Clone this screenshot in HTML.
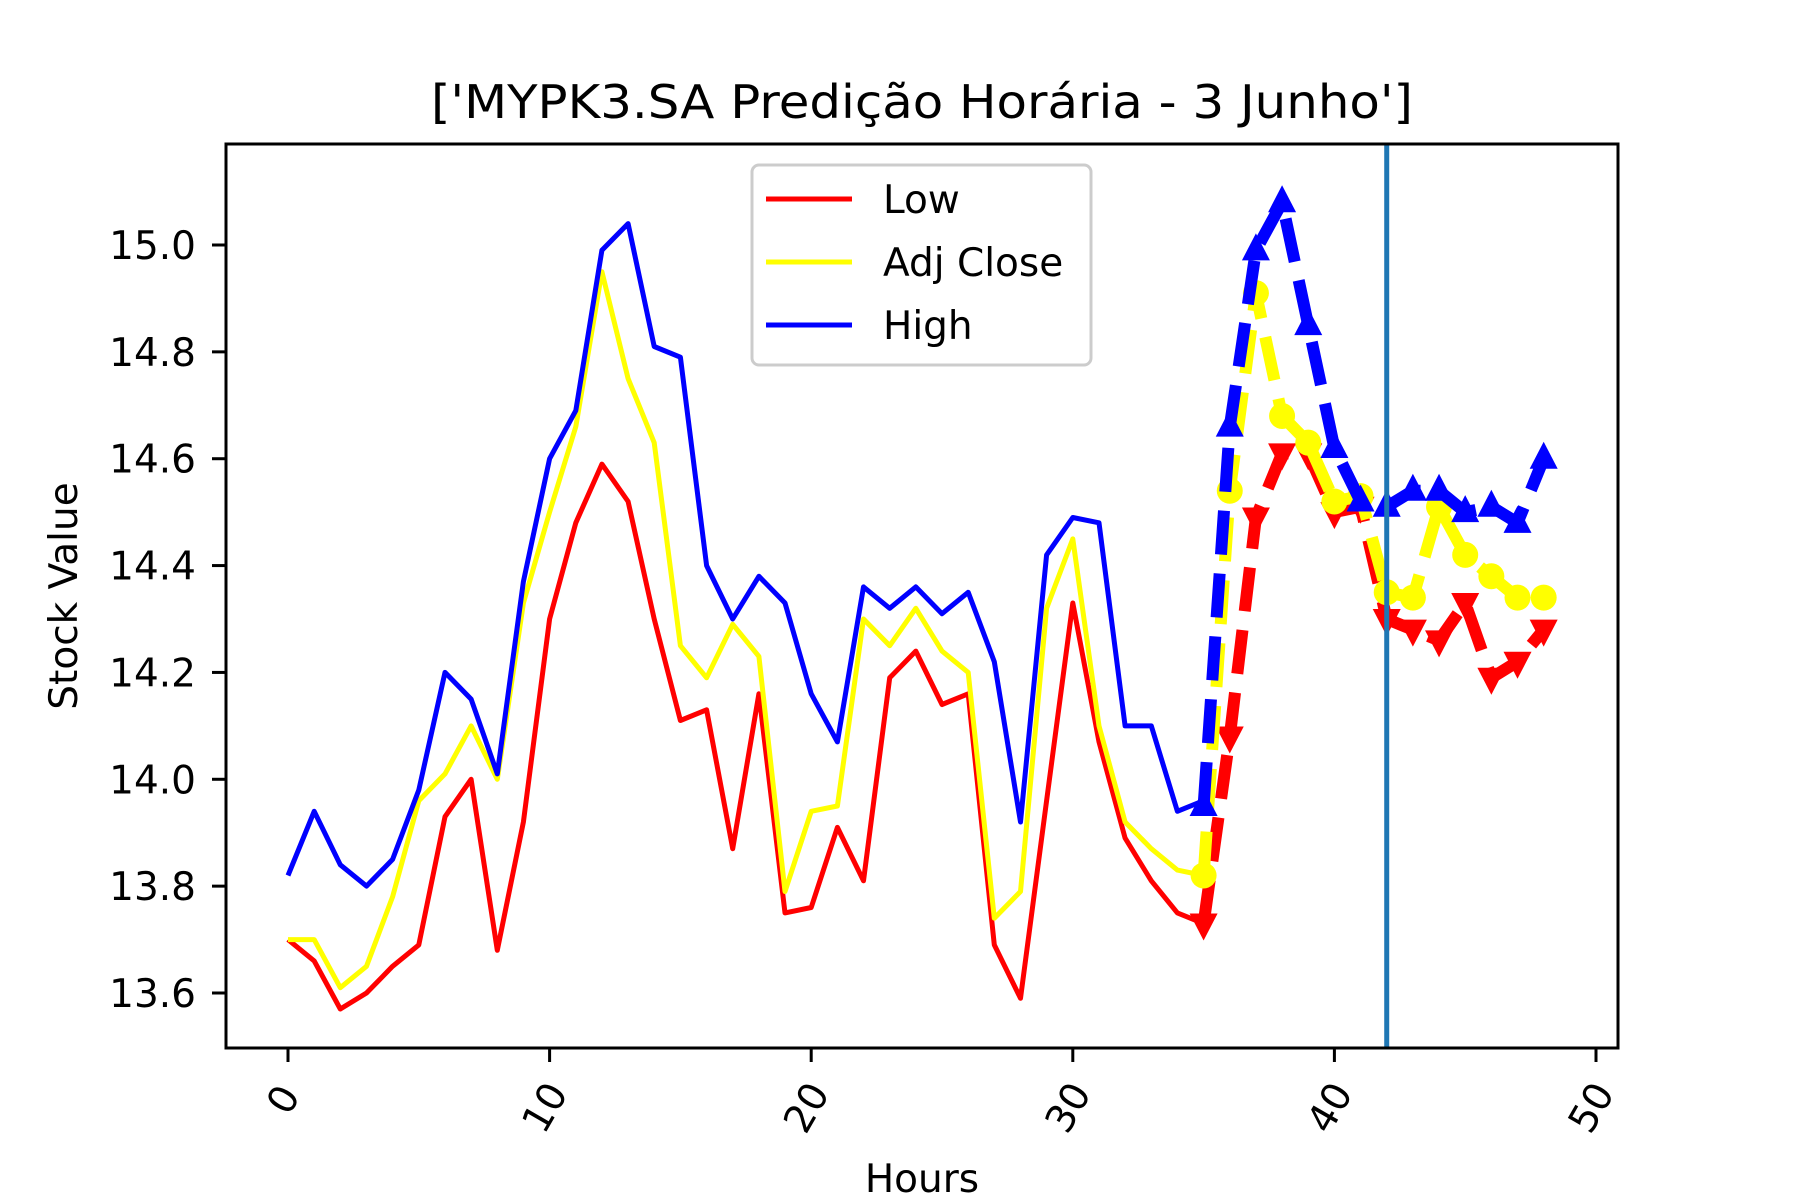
<!DOCTYPE html>
<html><head><meta charset="utf-8"><style>
html,body{margin:0;padding:0;background:#fff;}
svg{display:block;font-family:"DejaVu Sans","Liberation Sans",sans-serif;}
</style></head><body>
<svg id="chart" width="1800" height="1200" viewBox="0 0 1800 1200">
<rect x="0" y="0" width="1800" height="1200" fill="#fff"/>
<g id="plot"></g>
</svg>
<script>
const hours = [0,1,2,3,4,5,6,7,8,9,10,11,12,13,14,15,16,17,18,19,20,21,22,23,24,25,26,27,28,29,30,31,32,33,34,35];
const lowVals = [13.70,13.66,13.57,13.60,13.65,13.69,13.93,14.00,13.68,13.92,14.30,14.48,14.59,14.52,14.30,14.11,14.13,13.87,14.16,13.75,13.76,13.91,13.81,14.19,14.24,14.14,14.16,13.69,13.59,13.96,14.33,14.07,13.89,13.81,13.75,13.73];
const adjVals = [13.70,13.70,13.61,13.65,13.78,13.96,14.01,14.10,14.00,14.33,14.50,14.66,14.95,14.75,14.63,14.25,14.19,14.29,14.23,13.79,13.94,13.95,14.30,14.25,14.32,14.24,14.20,13.74,13.79,14.32,14.45,14.10,13.92,13.87,13.83,13.82];
const highVals = [13.82,13.94,13.84,13.80,13.85,13.98,14.20,14.15,14.01,14.37,14.60,14.69,14.99,15.04,14.81,14.79,14.40,14.30,14.38,14.33,14.16,14.07,14.36,14.32,14.36,14.31,14.35,14.22,13.92,14.42,14.49,14.48,14.10,14.10,13.94,13.96];
const predHours = [35,36,37,38,39,40,41,42,43,44,45,46,47,48];
const predLow = [13.73,14.08,14.49,14.61,14.61,14.50,14.51,14.30,14.28,14.26,14.33,14.19,14.22,14.28];
const predAdj = [13.82,14.54,14.91,14.68,14.63,14.52,14.53,14.35,14.34,14.51,14.42,14.38,14.34,14.34];
const predHigh = [13.95,14.66,14.99,15.08,14.85,14.62,14.52,14.51,14.54,14.54,14.50,14.51,14.48,14.60];
const xTicks = [0,10,20,30,40,50];
const yTicks = [13.6,13.8,14.0,14.2,14.4,14.6,14.8,15.0];
const splitHour = 42;

const AX = {l:226, r:1618, t:144, b:1048};
function xs(h){ return 288 + (h-0)*(1596-288)/50; }
function ys(v){ return 245 + (15.0-v)*(993-245)/1.4; }
const NS='http://www.w3.org/2000/svg';
const plot=document.getElementById('plot');
function mk(tag, attrs, parent){ const e=document.createElementNS(NS,tag); for(const k in attrs) e.setAttribute(k,attrs[k]); (parent||plot).appendChild(e); return e; }

const defs=mk('defs',{});
const cp=mk('clipPath',{id:'clip'},defs);
mk('rect',{x:AX.l,y:AX.t,width:AX.r-AX.l,height:AX.b-AX.t},cp);
const g=mk('g',{'clip-path':'url(#clip)'});



function pts(xarr, varr){ return xarr.map((h,i)=>xs(h).toFixed(1)+','+ys(varr[i]).toFixed(1)).join(' '); }

function line(xarr,varr,color){
  return mk('polyline',{points:pts(xarr,varr),fill:'none',stroke:color,'stroke-width':5,'stroke-linejoin':'round'},g);
}
const l1=line(hours,lowVals,'#ff0000');


const l2=line(hours,adjVals,'#ffff00');


const l3=line(hours,highVals,'#0000ff');



function predLine(varr,color,marker,name){
  const gg=mk('g',{},g);
  
  
  mk('polyline',{points:pts(predHours,varr),fill:'none',stroke:color,'stroke-width':12,'stroke-dasharray':'44 19'},gg);
  predHours.forEach((h,i)=>{
    const x=xs(h), y=ys(varr[i]);
    let m;
    if(marker==='o') m=mk('circle',{cx:x,cy:y,r:13,fill:color},gg);
    else if(marker==='^') m=mk('polygon',{points:`${x},${y-17} ${x-14},${y+10} ${x+14},${y+10}`,fill:color},gg);
    else m=mk('polygon',{points:`${x},${y+17} ${x-14},${y-10} ${x+14},${y-10}`,fill:color},gg);
    
    
  });
}
predLine(predLow,'#ff0000','v','predicted-low');
predLine(predAdj,'#ffff00','o','predicted-adj-close');
predLine(predHigh,'#0000ff','^','predicted-high');

const vl=mk('line',{x1:xs(splitHour),x2:xs(splitHour),y1:AX.t,y2:AX.b,stroke:'#1f77b4','stroke-width':5},g);



const fr=mk('rect',{x:AX.l,y:AX.t,width:AX.r-AX.l,height:AX.b-AX.t,fill:'none',stroke:'#000','stroke-width':3});



xTicks.forEach(t=>{
  const x=xs(t);
  const tk=mk('line',{x1:x,x2:x,y1:AX.b,y2:AX.b+14,stroke:'#000','stroke-width':3});
  
  
  const cy = t<10?1100:1108;
  const tx=mk('text',{x:x-4,y:cy,'font-size':39,'text-anchor':'middle','dominant-baseline':'central',transform:`rotate(-60 ${x-4} ${cy})`});
  tx.textContent=String(t);
  
  
});
yTicks.forEach(t=>{
  const y=ys(t);
  const tk=mk('line',{x1:AX.l-14,x2:AX.l,y1:y,y2:y,stroke:'#000','stroke-width':3});
  
  
  const tx=mk('text',{x:196,y:y+14,'font-size':39,'text-anchor':'end'});
  tx.textContent=t.toFixed(1);
  
  
});

const lg=mk('g',{});


mk('rect',{x:752,y:165,width:339,height:200,rx:7,fill:'#fff','fill-opacity':0.8,stroke:'#cccccc','stroke-width':3},lg);
[['Low','#ff0000',199],['Adj Close','#ffff00',262],['High','#0000ff',325]].forEach(([lab,c,y])=>{
  const e=mk('g',{},lg);
  
  
  mk('line',{x1:766,x2:852,y1:y,y2:y,stroke:c,'stroke-width':5},e);
  const t=mk('text',{x:883,y:y+14,'font-size':39},e);
  t.textContent=lab;
});
</script>
<div style="position:absolute;left:0;top:0;width:1800px;height:1200px;pointer-events:none;">
<svg width="1800" height="1200" style="position:absolute;left:0;top:0">
<text x="922" y="118" font-size="46" text-anchor="middle" textLength="982" lengthAdjust="spacingAndGlyphs" font-family="DejaVu Sans, Liberation Sans, sans-serif">['MYPK3.SA Predição Horária - 3 Junho']</text>
<text x="922" y="1192" font-size="39" text-anchor="middle" font-family="DejaVu Sans, Liberation Sans, sans-serif">Hours</text>
<text x="0" y="0" font-size="39" text-anchor="middle" transform="translate(77 596) rotate(-90)" font-family="DejaVu Sans, Liberation Sans, sans-serif">Stock Value</text>
</svg></div>
</body></html>
